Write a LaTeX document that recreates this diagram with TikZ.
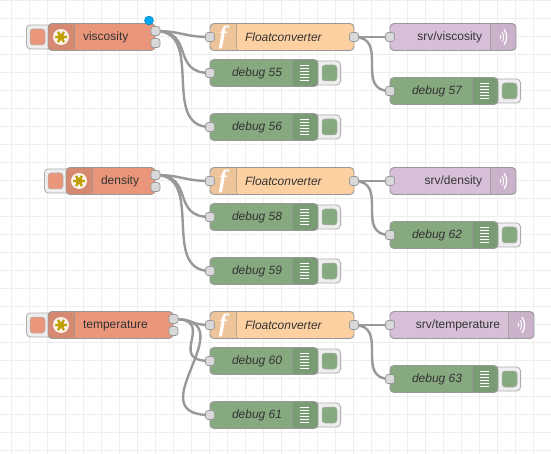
\documentclass[tikz,border=0pt]{standalone}
\usepackage{fontspec}
\setmainfont{Liberation Sans}
\usepackage{xcolor}
\usepackage{tikz}
\usetikzlibrary{backgrounds, positioning}
\definecolor{gridcol}{HTML}{EEEEEE}
\definecolor{edgecol}{HTML}{999999}
\definecolor{portcol}{HTML}{D9D9D9}
\definecolor{btncol}{HTML}{EEEEEE}
\definecolor{inkcol}{HTML}{333333}
\definecolor{salmon}{HTML}{E9967A}
\definecolor{salmondk}{HTML}{D58970}
\definecolor{peach}{HTML}{FDD0A2}
\definecolor{peachdk}{HTML}{EEC49A}
\definecolor{sage}{HTML}{87A980}
\definecolor{sagedk}{HTML}{7A9C74}
\definecolor{thistle}{HTML}{D8BFD8}
\definecolor{thistledk}{HTML}{CAB2CA}
\definecolor{changed}{HTML}{00A9F1}
\definecolor{gold}{HTML}{BFA000}

\tikzset{
  x=1pt, y=-1pt,
  body/.style={rectangle, draw=edgecol, line width=0.9pt, rounded corners=4pt, minimum height=27pt, inner sep=0pt, outer sep=0pt, anchor=west},
  lefticon/.style={path picture={
    \fill[#1] (path picture bounding box.south west) rectangle ([xshift=26pt]path picture bounding box.north west);
    \draw[edgecol!70!#1, line width=0.6pt] ([xshift=26pt]path picture bounding box.south west) -- ([xshift=26pt]path picture bounding box.north west);}},
  righticon/.style={path picture={
    \fill[#1] (path picture bounding box.south east) rectangle ([xshift=-26pt]path picture bounding box.north east);
    \draw[edgecol!70!#1, line width=0.6pt] ([xshift=-26pt]path picture bounding box.south east) -- ([xshift=-26pt]path picture bounding box.north east);}},
  plaintext/.style={font=\fontsize{12}{14}\selectfont, text=inkcol, inner sep=0pt, outer sep=0pt},
  slanted/.style={font=\fontsize{12}{14}\selectfont\itshape, text=inkcol, inner sep=0pt, outer sep=0pt},
  port/.style={rectangle, draw=edgecol, line width=0.7pt, fill=portcol, rounded corners=2.5pt, minimum size=9pt, inner sep=0pt, outer sep=0pt},
  btn/.style={rectangle, draw=edgecol!80, line width=0.8pt, fill=btncol, rounded corners=4pt, minimum height=24pt, minimum width=26pt, inner sep=0pt},
  btnface/.style={rectangle, draw=edgecol!80, line width=0.5pt, fill=#1, rounded corners=3pt, minimum width=15pt, minimum height=16pt, inner sep=0pt},
  wire/.style={draw=edgecol, line width=2.4pt, out=0, in=180},
  ficon/.style={text=white, font=\fontsize{25}{25}\selectfont, inner sep=0pt},
  injectglyph/.pic={
    \fill[white!88!salmon] (0,0) circle (8);
    \fill[gold] (0,0) circle (3.5);
    \draw[gold, line width=2.2pt] (-6,0) -- (6,0) (-3,-5.2) -- (3,5.2) (-3,5.2) -- (3,-5.2);
  },
  debugbars/.pic={
    \foreach \yy in {-7.5,-4.5,-1.5,1.5,4.5,7.5}
      \draw[white, line width=1pt] (-4.5,\yy) -- (4.5,\yy);
  },
  waveglyph/.pic={
    \draw[white, line width=0.9pt] (-3.5,-2) .. controls (-2.4,-0.8) and (-2.4,0.8) .. (-3.5,2);
    \draw[white, line width=0.9pt] (-1.5,-5) .. controls (0.5,-2) and (0.5,2) .. (-1.5,5);
    \draw[white, line width=1.2pt] (0.5,-8) .. controls (4,-3) and (4,3) .. (0.5,8);
  }
}

% name, left x, width, centre y, text offset, text
\newcommand{\injectnode}[6]{
  \node[btn, anchor=west] (#1Btn) at (#2-22,#4) {};
  \node[btnface=salmon] (#1Face) at (#2-10.5,#4) {};
  \node[body, fill=salmon, lefticon=salmondk, minimum width=#3pt] (#1) at (#2,#4) {};
  \node[plaintext, anchor=west] (#1Txt) at (#2+#5,#4+0.5) {#6};
  \pic at (#2+13,#4) {injectglyph};
  \node[port] (#1OutA) at (#2+#3+0.5,#4-6) {};
  \node[port] (#1OutB) at (#2+#3+0.5,#4+6) {};
}
% name, centre y
\newcommand{\convnode}[2]{
  \node[body, fill=peach, lefticon=peachdk, minimum width=144pt] (#1) at (210,#2) {};
  \node[slanted, anchor=west] (#1Txt) at (245,#2+0.5) {Floatconverter};
  \node[ficon] (#1Icon) at (223,#2) {\fontspec{Liberation Serif}\itshape\bfseries f};
  \node[port] (#1In) at (210,#2) {};
  \node[port] (#1Out) at (354,#2) {};
}
% name, left x, centre y, text
\newcommand{\debugnode}[4]{
  \node[btn, anchor=east] (#1Btn) at (#2+131,#3) {};
  \node[btnface=sage] (#1Face) at (#2+119.5,#3) {};
  \node[body, fill=sage, righticon=sagedk, minimum width=108pt] (#1) at (#2,#3) {};
  \node[slanted, anchor=west] (#1Txt) at (#2+22,#3+0.5) {#4};
  \pic at (#2+94.5,#3) {debugbars};
  \node[port] (#1In) at (#2,#3) {};
}
% name, width, centre y, text
\newcommand{\mqttnode}[4]{
  \node[body, fill=thistle, righticon=thistledk, minimum width=#2pt] (#1) at (390,#3) {};
  \node[plaintext, anchor=east] (#1Txt) at (390+#2-34,#3+0.5) {#4};
  \pic at (390+#2-12.5,#3) {waveglyph};
  \node[port] (#1In) at (390,#3) {};
}

\begin{document}
\begin{tikzpicture}
  \useasboundingbox (0,0) rectangle (551,454);
  \clip (0,0) rectangle (551,454);

  % Canvas grid
  \begin{pgfonlayer}{background}
    \fill[white] (0,0) rectangle (551,454);
    \begin{scope}[shift={(11.5,0.5)}]
      \draw[gridcol, line width=0.8pt, step=18pt] (-18,-18) grid (540,460);
    \end{scope}
  \end{pgfonlayer}

  % Viscosity row
  \injectnode{viscosity}{48}{107}{37}{35}{viscosity}
  \convnode{convA}{37}
  \debugnode{dbgFiftyFive}{210}{73}{debug 55}
  \debugnode{dbgFiftySix}{210}{127}{debug 56}
  \mqttnode{srvViscosity}{126}{37}{srv/viscosity}
  \debugnode{dbgFiftySeven}{390}{91}{debug 57}
  \node[circle, fill=changed, draw=changed!70!black, line width=0.4pt, minimum size=9pt, inner sep=0pt] (changedDot) at (149,20.5) {};

  % Density row
  \injectnode{density}{66}{89}{181}{35}{density}
  \convnode{convB}{181}
  \debugnode{dbgFiftyEight}{210}{217}{debug 58}
  \debugnode{dbgFiftyNine}{210}{271}{debug 59}
  \mqttnode{srvDensity}{126}{181}{srv/density}
  \debugnode{dbgSixtyTwo}{390}{235}{debug 62}

  % Temperature row
  \injectnode{temperature}{48}{125}{325}{35}{temperature}
  \convnode{convC}{325}
  \debugnode{dbgSixty}{210}{361}{debug 60}
  \debugnode{dbgSixtyOne}{210}{415}{debug 61}
  \mqttnode{srvTemperature}{144}{325}{srv/temperature}
  \debugnode{dbgSixtyThree}{390}{379}{debug 63}

  % Wires sit under the nodes
  \begin{pgfonlayer}{background}
    \draw[wire, out distance=26pt, in distance=26pt] (viscosityOutA.center) to (convAIn.center);
    \draw[wire, out distance=40pt, in distance=40pt] (viscosityOutA.center) to (dbgFiftyFiveIn.center);
    \draw[wire, out distance=50pt, in distance=50pt] (viscosityOutA.center) to (dbgFiftySixIn.center);
    \draw[wire] (convAOut.center) to (srvViscosityIn.center);
    \draw[wire, out distance=36pt, in distance=36pt] (convAOut.center) to (dbgFiftySevenIn.center);

    \draw[wire, out distance=26pt, in distance=26pt] (densityOutA.center) to (convBIn.center);
    \draw[wire, out distance=40pt, in distance=40pt] (densityOutA.center) to (dbgFiftyEightIn.center);
    \draw[wire, out distance=50pt, in distance=50pt] (densityOutA.center) to (dbgFiftyNineIn.center);
    \draw[wire] (convBOut.center) to (srvDensityIn.center);
    \draw[wire, out distance=36pt, in distance=36pt] (convBOut.center) to (dbgSixtyTwoIn.center);

    \draw[wire, out distance=20pt, in distance=20pt] (temperatureOutA.center) to (convCIn.center);
    \draw[wire, out distance=45pt, in distance=45pt] (temperatureOutA.center) to (dbgSixtyIn.center);
    \draw[wire, out distance=75pt, in distance=75pt] (temperatureOutA.center) to (dbgSixtyOneIn.center);
    \draw[wire] (convCOut.center) to (srvTemperatureIn.center);
    \draw[wire, out distance=36pt, in distance=36pt] (convCOut.center) to (dbgSixtyThreeIn.center);
  \end{pgfonlayer}
\end{tikzpicture}
\end{document}
